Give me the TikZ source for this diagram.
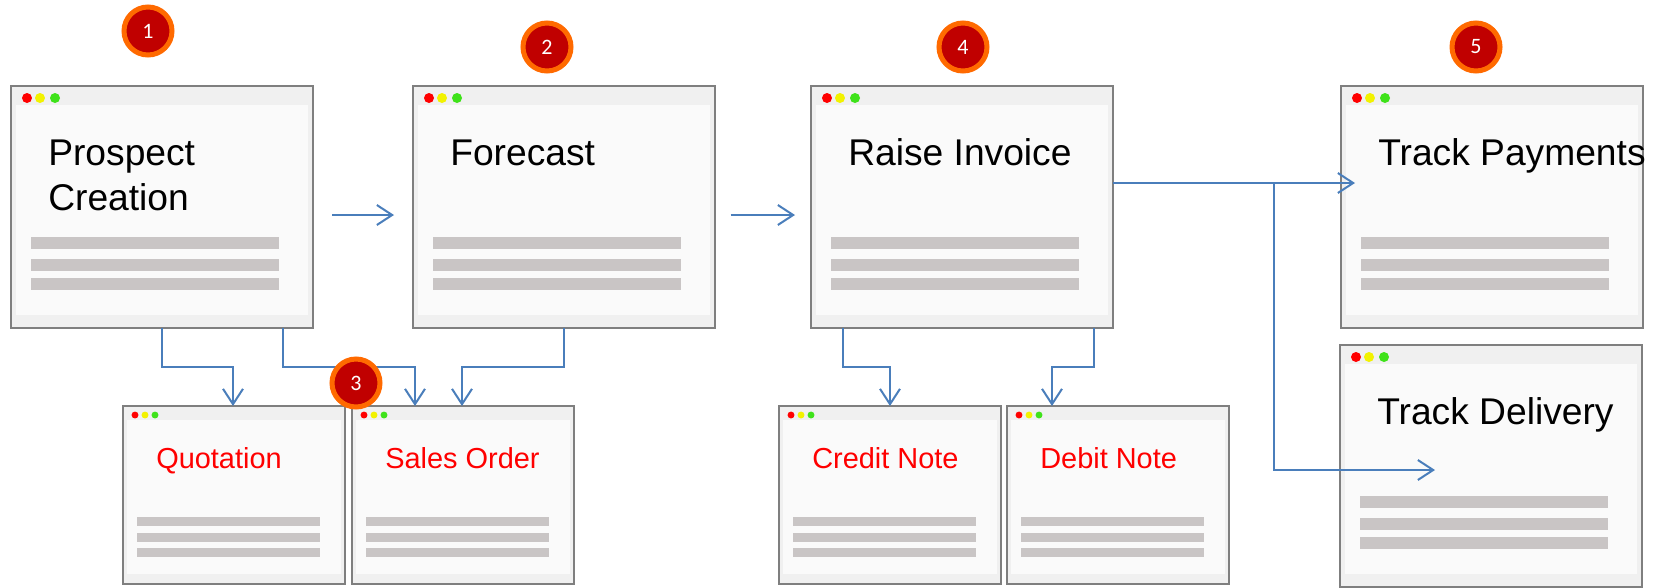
\documentclass[tikz,border=0pt]{standalone}
\usepackage{fontspec}
\setmainfont{Liberation Sans}
\newfontfamily\badgefont{Carlito}
\usetikzlibrary{arrows.meta,calc}

\definecolor{framegray}{HTML}{7F7F7F}
\definecolor{barfill}{HTML}{F0F0F0}
\definecolor{panefill}{HTML}{FAFAFA}
\definecolor{linegray}{HTML}{C9C5C5}
\definecolor{flowblue}{HTML}{4A7EBB}
\definecolor{dotred}{HTML}{FF0000}
\definecolor{dotyellow}{HTML}{F2F200}
\definecolor{dotgreen}{HTML}{3FE21A}
\definecolor{badgering}{HTML}{FF6A00}
\definecolor{badgecore}{HTML}{C00000}
\definecolor{notered}{HTML}{FF0000}

\tikzset{
  winframe/.style={draw=framegray, line width=1.5pt, fill=barfill,
    anchor=north west, inner sep=0pt, outer sep=0pt},
  bigtitle/.style={anchor=base west, inner sep=0pt, font=\fontsize{27.9}{33}\selectfont},
  smalltitle/.style={anchor=base west, inner sep=0pt, text=notered,
    font=\fontsize{21.7}{26}\selectfont},
  badge/.style={circle, fill=badgecore, draw=badgering, line width=3.75pt,
    minimum size=36pt, inner sep=0pt, text=white,
    font=\badgefont\fontsize{16.5}{18}\selectfont},
  flow/.style={draw=flowblue, line width=1.5pt,
    -{Straight Barb[length=11.5pt,width=15pt]}},
}

% large application window: name, north-west corner, title
\newcommand\bigwin[3]{%
  \node[winframe, minimum width=226.5pt, minimum height=181.5pt] (#1) at (#2) {};
  \fill[panefill] ($(#1.north west)+(5,19)$) rectangle ($(#1.south east)+(-5,-13)$);
  \foreach \dx/\c in {16/dotred,29/dotyellow,44/dotgreen}
    \fill[\c] ($(#1.north west)+(\dx,12)$) circle[radius=3.75pt];
  \foreach \dy in {151,173,192}
    \fill[linegray] ($(#1.north west)+(20,\dy)$) rectangle ++(248,11.5);
  \node[bigtitle] (#1-t) at ($(#1.north west)+(37,79)$) {#3};
}

% small document window: name, north-west corner, title
\newcommand\smallwin[3]{%
  \node[winframe, minimum width=166.5pt, minimum height=133.5pt] (#1) at (#2) {};
  \fill[panefill] ($(#1.north west)+(4,14)$) rectangle ($(#1.south east)+(-4,-10)$);
  \foreach \dx/\c in {12/dotred,22/dotyellow,32/dotgreen}
    \fill[\c] ($(#1.north west)+(\dx,9)$) circle[radius=2.6pt];
  \foreach \dy in {111,127,142}
    \fill[linegray] ($(#1.north west)+(14,\dy)$) rectangle ++(183,8.5);
  \node[smalltitle] (#1-t) at ($(#1.north west)+(33,62)$) {#3};
}

\begin{document}
\begin{tikzpicture}[x=0.75pt, y=-0.75pt]
  \useasboundingbox (0,0) rectangle (1660,587);
  \fill[white] (0,0) rectangle (1660,587);

  % main process screens
  \bigwin{pc}{11,86}{Prospect}
  \node[bigtitle] (pc-t2) at ($(pc.north west)+(37,124)$) {Creation};
  \bigwin{fc}{413,86}{Forecast}
  \bigwin{ri}{811,86}{Raise Invoice}
  \bigwin{tp}{1341,86}{Track Payments}
  \bigwin{td}{1340,345}{Track Delivery}

  % generated documents
  \smallwin{qt}{123,406}{Quotation}
  \smallwin{so}{352,406}{Sales Order}
  \smallwin{cn}{779,406}{Credit Note}
  \smallwin{dn}{1007,406}{Debit Note}

  % flow between screens
  \draw[flow] ($(pc.east)+(19,8)$) -- ($(fc.west)+(-19,8)$);
  \draw[flow] ($(fc.east)+(15.5,8)$) -- ($(ri.west)+(-16,8)$);

  \draw[flow] ($(pc.south west)+(151,0)$) |- ($(qt.north west)+(110,-39)$)
              -- ($(qt.north west)+(110,0)$);
  \draw[flow] ($(pc.south west)+(272,0)$) |- ($(so.north west)+(63,-39)$)
              -- ($(so.north west)+(63,0)$);
  \draw[flow] ($(fc.south west)+(151,0)$) |- ($(so.north west)+(110,-39)$)
              -- ($(so.north west)+(110,0)$);

  \draw[flow] ($(ri.south west)+(32,0)$) |- ($(cn.north west)+(111,-39)$)
              -- ($(cn.north west)+(111,0)$);
  \draw[flow] ($(ri.south west)+(283,0)$) |- ($(dn.north west)+(45,-39)$)
              -- ($(dn.north west)+(45,0)$);

  \coordinate (split) at ($(ri.north east)+(161,97)$);
  \draw[flow] ($(ri.north east)+(0,97)$) -- ($(tp.north west)+(14,97)$);
  \draw[flow] (split) |- ($(td.north west)+(95,125)$);

  % step numbers
  \node[badge] (b1) at (148,31) {1};
  \node[badge] (b2) at (547,47) {2};
  \node[badge] (b3) at (356,383) {3};
  \node[badge] (b4) at (963,47) {4};
  \node[badge] (b5) at (1476,47) {5};
\end{tikzpicture}
\end{document}
